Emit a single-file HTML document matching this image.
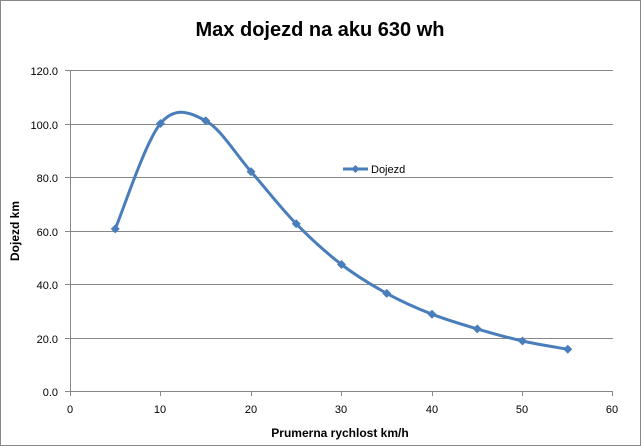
<!DOCTYPE html>
<html><head><meta charset="utf-8"><style>
html,body{margin:0;padding:0;background:#fff}
svg{display:block;font-family:"Liberation Sans",sans-serif}
</style></head><body>
<svg width="641" height="446" viewBox="0 0 641 446">
<rect x="0.5" y="0.5" width="640" height="445" fill="#fff" stroke="#888"/>
<text x="320" y="36" text-anchor="middle" font-size="20" font-weight="bold">Max dojezd na aku 630 wh</text>
<g stroke="#888" stroke-width="1">
<line x1="65" x2="613" y1="70.5" y2="70.5"/>
<line x1="65" x2="613" y1="124.5" y2="124.5"/>
<line x1="65" x2="613" y1="177.5" y2="177.5"/>
<line x1="65" x2="613" y1="231.5" y2="231.5"/>
<line x1="65" x2="613" y1="284.5" y2="284.5"/>
<line x1="65" x2="613" y1="338.5" y2="338.5"/>
<line x1="65" x2="613" y1="391.5" y2="391.5"/>
<line x1="70.5" x2="70.5" y1="70" y2="391.5"/>
<line x1="70.5" x2="70.5" y1="391" y2="396"/>
<line x1="160.5" x2="160.5" y1="391" y2="396"/>
<line x1="251.5" x2="251.5" y1="391" y2="396"/>
<line x1="341.5" x2="341.5" y1="391" y2="396"/>
<line x1="432.5" x2="432.5" y1="391" y2="396"/>
<line x1="522.5" x2="522.5" y1="391" y2="396"/>
<line x1="612.5" x2="612.5" y1="391" y2="396"/>
</g>
<g font-size="11" fill="#000" text-anchor="end">
<text x="58" y="75">120.0</text>
<text x="58" y="129">100.0</text>
<text x="58" y="182">80.0</text>
<text x="58" y="236">60.0</text>
<text x="58" y="289">40.0</text>
<text x="58" y="343">20.0</text>
<text x="58" y="396">0.0</text>
</g>
<g font-size="11" fill="#000" text-anchor="middle">
<text x="70" y="413">0</text>
<text x="160" y="413">10</text>
<text x="251" y="413">20</text>
<text x="341" y="413">30</text>
<text x="432" y="413">40</text>
<text x="522" y="413">50</text>
<text x="612" y="413">60</text>
</g>
<text x="340" y="437" text-anchor="middle" font-size="12" font-weight="bold">Prumerna rychlost km/h</text>
<text transform="translate(19,231) rotate(-90)" text-anchor="middle" font-size="12" font-weight="bold">Dojezd km</text>
<path fill="none" stroke="#4a7ebb" stroke-width="3" d="M115.25 228.9 C122.79 211.33 145.42 141.52 160.5 123.5 C175.58 105.48 190.67 112.77 205.75 120.8 C220.83 128.83 235.92 154.48 251 171.65 C266.08 188.82 281.17 208.32 296.25 223.8 C311.33 239.28 326.42 252.9 341.5 264.5 C356.58 276.1 371.67 285.12 386.75 293.4 C401.83 301.68 416.92 308.28 432 314.2 C447.08 320.12 462.17 324.43 477.25 328.9 C492.33 333.37 507.42 337.6 522.5 341 C537.58 344.4 560.21 347.92 567.75 349.3"/>
<g fill="#4a7ebb">
<path d="M115.25 224.4 l4.5 4.5 l-4.5 4.5 l-4.5 -4.5Z"/>
<path d="M160.5 119 l4.5 4.5 l-4.5 4.5 l-4.5 -4.5Z"/>
<path d="M205.75 116.3 l4.5 4.5 l-4.5 4.5 l-4.5 -4.5Z"/>
<path d="M251 167.15 l4.5 4.5 l-4.5 4.5 l-4.5 -4.5Z"/>
<path d="M296.25 219.3 l4.5 4.5 l-4.5 4.5 l-4.5 -4.5Z"/>
<path d="M341.5 260 l4.5 4.5 l-4.5 4.5 l-4.5 -4.5Z"/>
<path d="M386.75 288.9 l4.5 4.5 l-4.5 4.5 l-4.5 -4.5Z"/>
<path d="M432 309.7 l4.5 4.5 l-4.5 4.5 l-4.5 -4.5Z"/>
<path d="M477.25 324.4 l4.5 4.5 l-4.5 4.5 l-4.5 -4.5Z"/>
<path d="M522.5 336.5 l4.5 4.5 l-4.5 4.5 l-4.5 -4.5Z"/>
<path d="M567.75 344.8 l4.5 4.5 l-4.5 4.5 l-4.5 -4.5Z"/>
</g>
<line x1="343" y1="169" x2="368" y2="169" stroke="#4a7ebb" stroke-width="3"/>
<path d="M355.5 165 L359.5 169 L355.5 173 L351.5 169Z" fill="#4a7ebb"/>
<text x="371" y="173" font-size="11">Dojezd</text>
</svg>
</body></html>
